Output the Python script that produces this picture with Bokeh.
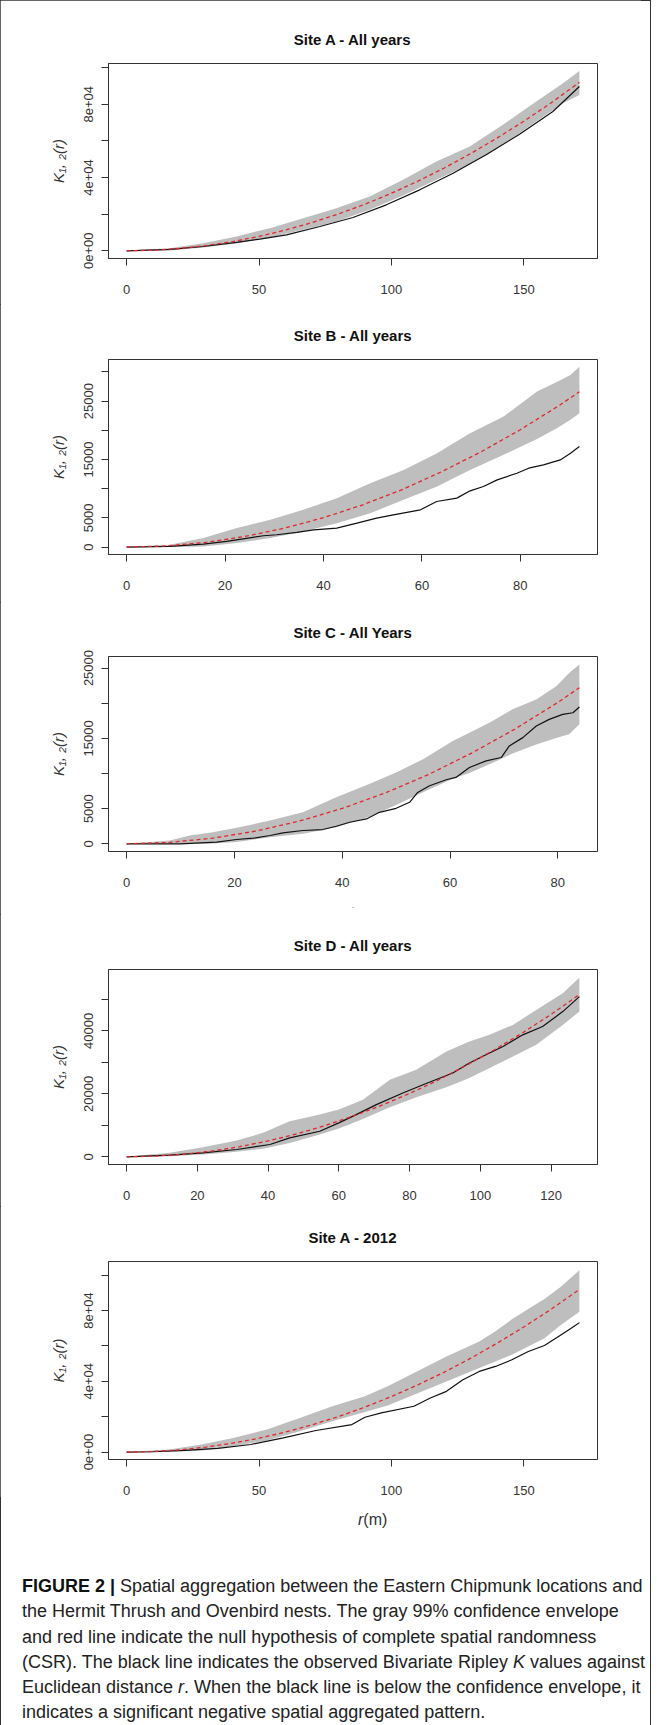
from bokeh.plotting import figure
from bokeh.models import Range1d, FixedTicker, Div
from bokeh.layouts import column
from bokeh.embed import file_html
from bokeh.resources import INLINE

# ---------------- data ----------------
# Site A - All years
rA_env = [0, 16.4, 28.9, 41.5, 54.1, 66.7, 79.2, 91.8, 104.4, 117, 129.6, 142.1, 154.7, 164.8, 171]
hiA = [0, 1450, 4180, 7820, 12360, 17820, 23270, 29630, 38720, 48720, 56900, 68720, 81450, 91450, 98170]
loA = [0, 180, 1820, 4000, 7270, 11450, 16000, 22360, 30180, 38720, 47270, 57810, 70540, 80540, 85080]
rA_obs = [0, 16.4, 28.9, 41.5, 50.3, 60.4, 73, 85.5, 98.1, 110.7, 123.3, 135.8, 148.4, 161, 171]
obsA = [0, 730, 2360, 4550, 6360, 8730, 13270, 18180, 25090, 33270, 42360, 52360, 63630, 75990, 89630]
rA_theo = [0, 10, 20, 30, 40, 50, 60, 70, 80, 90, 100, 110, 120, 130, 140, 150, 160, 171]
theoA = [0, 310, 1260, 2830, 5030, 7850, 11300, 15400, 20100, 25400, 31400, 38000, 45200, 53100, 61600, 70700, 80400, 91900]

# Site B - All years
rB_env = [0, 8.8, 15.6, 22.4, 29.2, 35.9, 42.7, 49.5, 56.3, 63.1, 66.4, 69.8, 76.6, 83.4, 87.5, 90.2, 92]
hiB = [0, 400, 1540, 3250, 4670, 6380, 8380, 10940, 13220, 16070, 17780, 19490, 22340, 26620, 28330, 29470, 30890]
loB = [0, 30, 110, 680, 1540, 2680, 4100, 5810, 8090, 10370, 11800, 13220, 15790, 18500, 20400, 21800, 22910]
rB_obs = [0, 8.8, 15.6, 20.3, 23.7, 27.8, 30.5, 34.6, 38, 42.7, 46.8, 50.8, 54.2, 59.7, 63, 67.1, 69.8, 72.5, 75.3, 79.3, 81.7, 84.7, 88.1, 90.2, 92]
obsB = [0, 110, 510, 970, 1420, 1940, 2110, 2510, 2960, 3250, 4100, 4960, 5530, 6380, 7810, 8380, 9630, 10370, 11510, 12650, 13510, 14080, 14930, 16070, 17210]
rB_theo = [0, 8, 16, 24, 32, 40, 48, 56, 64, 72, 80, 88, 92]
theoB = [0, 200, 800, 1810, 3220, 5030, 7240, 9850, 12900, 16300, 20100, 24300, 26600]

# Site C - All Years
rC_env = [0, 8, 11.7, 16, 20.4, 26.6, 32.7, 38.9, 45, 50, 55, 60.5, 63.6, 67.3, 71.6, 76, 79.7, 82.1, 84]
hiC = [0, 470, 1180, 1650, 2270, 3300, 4480, 6610, 8500, 10150, 12040, 14630, 15810, 17230, 19120, 20530, 22420, 24300, 25490]
loC = [0, 0, 0, 50, 240, 940, 1420, 2350, 3860, 5530, 7330, 9250, 10060, 11300, 12840, 14140, 15050, 15580, 16990]
rC_obs = [0, 9.9, 16.7, 20.4, 23.5, 26.6, 29, 32.7, 36.4, 38.9, 41.4, 44.5, 46.9, 50, 52.5, 54, 56.2, 59.3, 61.1, 63.6, 66.7, 69.5, 71, 73.5, 76, 78.4, 80.9, 82.8, 84]
obsC = [0, 0, 240, 610, 800, 1180, 1560, 1890, 2030, 2500, 3070, 3540, 4480, 5050, 5900, 7300, 8260, 9110, 9440, 10860, 11800, 12270, 13920, 15100, 16760, 17700, 18400, 18640, 19450]
rC_theo = [0, 8, 16, 24, 32, 40, 48, 56, 64, 72, 80, 84]
theoC = [0, 200, 800, 1810, 3220, 5030, 7240, 9850, 12900, 16300, 20100, 22200]

# Site D - All years
rD_env = [0, 12.2, 21.6, 31.1, 38.6, 46.1, 54.6, 60, 66.8, 74.4, 81.9, 90.4, 96.9, 102.6, 109.2, 115.8, 123.3, 128]
hiD = [0, 1270, 3060, 5170, 7600, 11290, 13400, 14980, 18150, 24480, 27640, 33440, 36610, 38720, 41880, 46630, 51910, 56860]
loD = [0, 210, 740, 1580, 2590, 4420, 7070, 8960, 12020, 15750, 18900, 22080, 25000, 28170, 31850, 35550, 41880, 46100]
rD_obs = [0, 12.2, 21.6, 31.1, 40.5, 46.1, 54.6, 60, 64.9, 70.6, 78.1, 83.8, 92.2, 96.9, 101.6, 106.4, 112, 117.6, 123.3, 128]
obsD = [0, 530, 1270, 2320, 3900, 6010, 8120, 10760, 13400, 16560, 20260, 22890, 26590, 29750, 32390, 35030, 38720, 41360, 46100, 50850]
rD_theo = [0, 8, 16, 24, 32, 40, 48, 56, 64, 72, 80, 88, 96, 104, 112, 120, 128]
theoD = [0, 200, 800, 1810, 3220, 5030, 7240, 9850, 12900, 16300, 20100, 24300, 29000, 34000, 39400, 45200, 51500]

# Site A - 2012
rE_env = [0, 16, 28.4, 40.7, 53, 65.4, 77.7, 90, 98.6, 108.5, 120.8, 133.2, 139.3, 145.5, 151.7, 157.8, 164, 171]
hiE = [0, 1500, 4310, 8070, 12760, 19320, 25890, 31520, 37140, 44650, 54030, 62470, 68300, 75000, 80800, 86500, 93420, 102800]
loE = [0, 200, 940, 3380, 6570, 11820, 17450, 22700, 26290, 32450, 39960, 47460, 51210, 54970, 59660, 64350, 71850, 79350]
rE_obs = [0, 9.9, 22.2, 34.5, 46.9, 59.2, 71.5, 85.1, 90, 96.2, 108.5, 114.7, 120.8, 127, 133.2, 139.3, 145.5, 151.7, 157.8, 164, 168.9, 171]
obsE = [0, 200, 940, 2060, 4310, 8070, 12190, 15570, 19700, 22140, 25890, 30580, 34330, 40900, 45590, 48400, 52150, 56840, 60220, 66220, 70910, 73160]
rE_theo = [0, 10, 20, 30, 40, 50, 60, 70, 80, 90, 100, 110, 120, 130, 140, 150, 160, 171]
theoE = [0, 310, 1260, 2830, 5030, 7850, 11300, 15400, 20100, 25400, 31400, 38000, 45200, 53100, 61600, 70700, 80400, 91900]

titles = ["Site A - All years", "Site B - All years", "Site C - All Years",
          "Site D - All years", "Site A - 2012"]

yticksA = [0, 20000, 40000, 60000, 80000, 100000]
ylabsA = ["0e+00", "", "4e+04", "", "8e+04", ""]
yticksB = [0, 5000, 10000, 15000, 20000, 25000, 30000]
ylabsB = ["0", "5000", "", "15000", "", "25000", ""]
yticksC = [0, 5000, 10000, 15000, 20000, 25000]
ylabsC = ["0", "5000", "", "15000", "", "25000"]
yticksD = [0, 10000, 20000, 30000, 40000, 50000]
ylabsD = ["0", "", "20000", "", "40000", ""]
xticksA = [0, 50, 100, 150]
xticksB = [0, 20, 40, 60, 80]
xticksC = [0, 20, 40, 60, 80]
xticksD = [0, 20, 40, 60, 80, 100, 120]

FONT = "Liberation Sans"
AX = "#333333"


def panel(title, env, obs, theo, xmax, yr, yt, yl, xt, h, bt, bb, bl, br):
    p = figure(width=641, height=h, output_backend="svg", toolbar_location=None,
               x_range=Range1d(-0.04 * xmax, 1.04 * xmax), y_range=Range1d(*yr),
               min_border_top=bt, min_border_bottom=bb, min_border_left=bl,
               min_border_right=br, background_fill_color="white",
               border_fill_color="white")
    p.title.text = title
    p.title.align = "center"
    p.title.text_font = FONT
    p.title.text_font_size = "15px"
    p.title.text_font_style = "bold"
    p.title.text_color = "#111111"
    p.title.standoff = 32
    p.xgrid.visible = False
    p.ygrid.visible = False
    p.outline_line_color = AX
    p.outline_line_width = 1
    for ax in (p.xaxis[0], p.yaxis[0]):
        ax.axis_line_color = AX
        ax.major_tick_line_color = AX
        ax.major_tick_out = 7
        ax.major_tick_in = 0
        ax.minor_tick_line_color = None
        ax.major_label_text_font = FONT
        ax.major_label_text_font_size = "13px"
        ax.major_label_text_color = "#333333"
    p.xaxis.ticker = FixedTicker(ticks=xt, minor_ticks=[])
    p.xaxis.major_label_standoff = 19
    p.yaxis.ticker = FixedTicker(ticks=yt, minor_ticks=[])
    p.yaxis.major_label_overrides = {t: s for t, s in zip(yt, yl)}
    p.yaxis.major_label_orientation = "vertical"
    p.yaxis.major_label_standoff = 8
    p.yaxis.axis_label = "K\u2081, \u2082(r)"
    p.yaxis.axis_label_text_font = FONT
    p.yaxis.axis_label_text_font_style = "italic"
    p.yaxis.axis_label_text_font_size = "15px"
    p.yaxis.axis_label_text_color = "#333333"
    p.yaxis.axis_label_standoff = 15
    p.varea(x=env[0], y1=env[1], y2=env[2], fill_color="#BEBEBE", fill_alpha=1)
    p.line(obs[0], obs[1], line_color="#111111", line_width=1.2)
    p.line(theo[0], theo[1], line_color="#E0282C", line_width=1.3, line_dash="4 3")
    return p


p1 = panel(titles[0], (rA_env, loA, hiA), (rA_obs, obsA), (rA_theo, theoA), 171,
           (-4200, 102200), yticksA, ylabsA, xticksA, 304, 63, 46, 108, 44)
p2 = panel(titles[1], (rB_env, loB, hiB), (rB_obs, obsB), (rB_theo, theoB), 92,
           (-1270, 32120), yticksB, ylabsB, xticksB, 298, 55, 48, 108, 44)
p3 = panel(titles[2], (rC_env, loC, hiC), (rC_obs, obsC), (rC_theo, theoC), 84,
           (-1095, 26640), yticksC, ylabsC, xticksC, 312, 54, 63, 108, 44)
p4 = panel(titles[3], (rD_env, loD, hiD), (rD_obs, obsD), (rD_theo, theoD), 128,
           (-2444, 59460), yticksD, ylabsD, xticksD, 292, 55, 42, 108, 44)
p5 = panel(titles[4], (rE_env, loE, hiE), (rE_obs, obsE), (rE_theo, theoE), 171,
           (-4180, 107700), yticksA, ylabsA, xticksA, 291, 55, 38, 108, 34)

# faint stray mark under the Site C panel
p3.xaxis.axis_label = "-"
p3.xaxis.axis_label_text_font = FONT
p3.xaxis.axis_label_text_font_size = "9px"
p3.xaxis.axis_label_text_font_style = "normal"
p3.xaxis.axis_label_text_color = "#b0b0b0"
p3.xaxis.axis_label_standoff = 14

xlab = Div(
    text='<div style="font-family: \'Liberation Sans\', Arial, sans-serif; font-size: 16px; '
         'line-height: 20px; color: #333; white-space: nowrap; padding-left: 353px; padding-top: 8px;">'
         '<i>r</i>(m)</div>',
    width=641, height=40)

caption_html = (
    '<div style="font-family: \'Liberation Sans\', Arial, sans-serif; font-size: 18px; '
    'line-height: 25.3px; color: #222; white-space: nowrap; padding-left: 17px; padding-top: 22px;">'
    '<b style="color:#111">FIGURE 2 |</b> Spatial aggregation between the Eastern Chipmunk locations and<br>'
    'the Hermit Thrush and Ovenbird nests. The gray 99% confidence envelope<br>'
    'and red line indicate the null hypothesis of complete spatial randomness<br>'
    '(CSR). The black line indicates the observed Bivariate Ripley <i>K</i> values against<br>'
    'Euclidean distance <i>r</i>. When the black line is below the confidence envelope, it<br>'
    'indicates a significant negative spatial aggregated pattern.'
    '</div>'
)
cap = Div(text=caption_html, width=641, height=172)

layout = column(p1, p2, p3, p4, p5, xlab, cap,
                styles={"outline": "1px solid #333", "outline-offset": "-1px",
                        "background": "white"})

open("out.html", "w").write(file_html(layout, INLINE))
